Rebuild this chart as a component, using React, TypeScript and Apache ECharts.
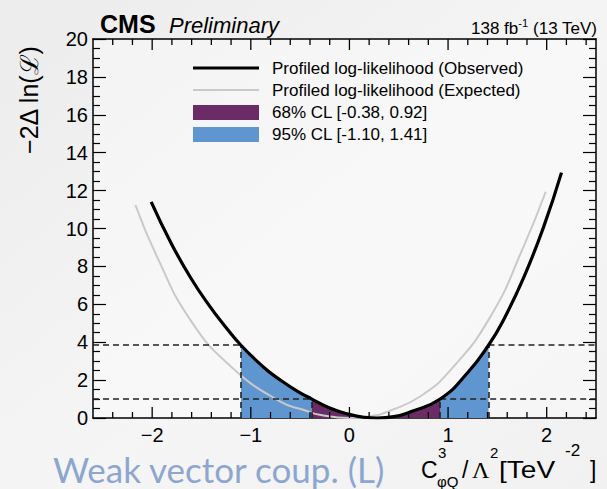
import React, { useEffect, useRef } from "react";
import * as echarts from "echarts";

// Profiled -2ΔlnL scan, observed
const observedX = [-2.01, -1.81, -1.61, -1.41, -1.27, -1.10, -0.87, -0.70, -0.53, -0.38, -0.20, 0.00, 0.15, 0.28, 0.45, 0.62, 0.92, 1.20, 1.41, 1.56, 1.77, 1.97, 2.15];
const observedY = [11.41, 9.25, 7.40, 5.85, 4.90, 3.84, 2.68, 2.00, 1.42, 1.00, 0.53, 0.19, 0.04, 0.00, 0.07, 0.33, 1.00, 2.40, 3.84, 5.15, 7.45, 10.10, 12.95];

// Profiled -2ΔlnL scan, expected
const expectedX = [-2.17, -1.95, -1.61, -1.20, -0.70, -0.46, -0.29, 0.00, 0.20, 0.41, 0.72, 1.02, 1.43, 1.77, 1.99];
const expectedY = [11.24, 8.50, 5.15, 2.71, 0.86, 0.42, 0.16, 0.00, 0.08, 0.38, 1.15, 2.50, 5.35, 9.10, 11.94];

// Confidence intervals and their -2ΔlnL thresholds
const cl68 = [-0.38, 0.92];
const cl95 = [-1.10, 1.41];
const cl68Level = 1;
const cl95Level = 3.84;

// Axis ranges and tick values
const xRange = [-2.6, 2.5];
const yRange = [0, 20];
const xMajorTicks = [-2, -1, 0, 1, 2];
const xMinorTicks = [-2.4, -2.2, -1.8, -1.6, -1.4, -1.2, -0.8, -0.6, -0.4, -0.2, 0.2, 0.4, 0.6, 0.8, 1.2, 1.4, 1.6, 1.8, 2.2, 2.4];
const yMajorStep = 2;

const legendLabels = [
  "Profiled log-likelihood (Observed)",
  "Profiled log-likelihood (Expected)",
  "68% CL [-0.38, 0.92]",
  "95% CL [-1.10, 1.41]",
];

const PURPLE = "#6a2b67";
const BLUE = "#6096cf";
const GRAY = "#c9c9c9";
const FONT = "'Liberation Sans', Arial, Helvetica, sans-serif";
const SMOOTH = 0.5;

const pairs = (xs: number[], ys: number[]) => xs.map((x, i) => [x, ys[i]]);
const band = (lo: number, hi: number) =>
  pairs(observedX, observedY).filter(([x]) => x >= lo - 1e-9 && x <= hi + 1e-9);

const minus = (v: number) => String(v).replace("-", "\u2212");

export default function App() {
  const ref = useRef<HTMLDivElement>(null);

  useEffect(() => {
    if (!ref.current) return;
    const chart = echarts.init(ref.current, null, { renderer: "svg" });

    const frameLine = { show: true, onZero: false, lineStyle: { color: "#000", width: 1.5 } };
    const tickStyle = { color: "#000", width: 1.2 };

    const baseX = {
      type: "value" as const,
      min: xRange[0],
      max: xRange[1],
      splitLine: { show: false },
      axisLine: frameLine,
      axisTick: { show: false },
    };
    const baseY = {
      type: "value" as const,
      min: yRange[0],
      max: yRange[1],
      interval: yMajorStep,
      splitLine: { show: false },
      axisLine: frameLine,
      axisTick: { show: true, inside: true, length: 13, lineStyle: tickStyle },
      minorTick: { show: true, splitNumber: 4, length: 7, lineStyle: tickStyle },
    };

    const dash = { type: [6, 4], color: "#222", width: 1.6 };
    const seg = (x1: number, y1: number, x2: number, y2: number) => [
      { coord: [x1, y1] },
      { coord: [x2, y2] },
    ];

    const txt = (text: string, x: number, y: number, size: number, extra: any = {}) => ({
      type: "text",
      x,
      y,
      scaleX: extra.scaleX || 1,
      style: {
        text,
        font: `${extra.style || "normal"} ${extra.weight || "normal"} ${size}px ${extra.family || FONT}`,
        fill: extra.fill || "#000",
        align: extra.align || "left",
        verticalAlign: "middle",
      },
    });

    chart.setOption({
      animation: false,
      backgroundColor: new echarts.graphic.LinearGradient(0, 0, 1, 1, [
        { offset: 0, color: "#ececec" },
        { offset: 0.55, color: "#f5f5f5" },
        { offset: 1, color: "#f1f1f1" },
      ]),
      grid: { left: 93, top: 39, right: 11, bottom: 71, show: true, backgroundColor: "rgba(255,255,255,0.35)", borderWidth: 0 },
      xAxis: [
        {
          ...baseX,
          position: "bottom",
          axisLabel: {
            customValues: xMajorTicks,
            formatter: (v: number) => minus(v),
            fontSize: 20,
            fontFamily: FONT,
            color: "#000",
            margin: 7,
          },
        },
        { ...baseX, position: "top", axisLabel: { show: false } },
      ],
      yAxis: [
        {
          ...baseY,
          position: "left",
          axisLabel: { fontSize: 20, fontFamily: FONT, color: "#000", margin: 5 },
        },
        { ...baseY, position: "right", axisLabel: { show: false } },
      ],
      series: [
        {
          name: legendLabels[3],
          type: "line",
          data: band(cl95[0], cl95[1]),
          smooth: SMOOTH,
          showSymbol: false,
          lineStyle: { width: 0 },
          areaStyle: { color: BLUE, opacity: 1 },
          z: 1,
          silent: true,
        },
        {
          name: legendLabels[2],
          type: "line",
          data: band(cl68[0], cl68[1]),
          smooth: SMOOTH,
          showSymbol: false,
          lineStyle: { width: 0 },
          areaStyle: { color: PURPLE, opacity: 1 },
          z: 2,
          silent: true,
          markLine: {
            silent: true,
            symbol: ["none", "none"],
            label: { show: false },
            lineStyle: dash,
            data: [
              seg(xRange[0], cl68Level, cl68[0], cl68Level),
              seg(cl68[1], cl68Level, xRange[1], cl68Level),
              seg(xRange[0], cl95Level, cl95[0], cl95Level),
              seg(cl95[1], cl95Level, xRange[1], cl95Level),
              seg(cl95[0], 0, cl95[0], cl95Level),
              seg(cl95[1], 0, cl95[1], cl95Level),
              seg(cl68[0], 0, cl68[0], cl68Level),
              seg(cl68[1], 0, cl68[1], cl68Level),
            ],
          },
        },
        {
          name: legendLabels[1],
          type: "line",
          data: pairs(expectedX, expectedY),
          smooth: SMOOTH,
          showSymbol: false,
          lineStyle: { color: GRAY, width: 2 },
          z: 4,
          silent: true,
        },
        {
          name: legendLabels[0],
          type: "line",
          data: pairs(observedX, observedY),
          smooth: SMOOTH,
          showSymbol: false,
          lineStyle: { color: "#000", width: 3.2 },
          z: 5,
          silent: true,
        },
      ],
    });

    // inward ticks on the bottom and top frame edges, placed through the x/y scales
    const toPx = (v: number, y: number) =>
      chart.convertToPixel({ xAxisIndex: 0, yAxisIndex: 0 }, [v, y]) as number[];
    const tickLines = (values: number[], length: number) =>
      values.flatMap((v) => {
        const b = toPx(v, yRange[0]);
        const t = toPx(v, yRange[1]);
        const style = { stroke: "#000", lineWidth: 1.3 };
        return [
          { type: "line", z: 50, silent: true, shape: { x1: b[0], y1: b[1], x2: b[0], y2: b[1] - length }, style },
          { type: "line", z: 50, silent: true, shape: { x1: t[0], y1: t[1], x2: t[0], y2: t[1] + length }, style },
        ];
      });

    chart.setOption({
      graphic: [
        ...tickLines(xMajorTicks, 11),
        ...tickLines(xMinorTicks, 6),
        // header
        txt("CMS", 100, 24, 25, { weight: "bold" }),
        txt("Preliminary", 169, 25, 22, { style: "italic" }),
        {
          type: "text",
          x: 597,
          y: 27,
          style: {
            text: "{a|138 fb}{s|-1}{a| (13 TeV)}",
            align: "right",
            verticalAlign: "middle",
            rich: {
              a: { fontSize: 17, fontFamily: FONT, fill: "#000", lineHeight: 19, verticalAlign: "bottom" },
              s: { fontSize: 11, fontFamily: FONT, fill: "#000", lineHeight: 19, verticalAlign: "top" },
            },
          },
        },
        // legend
        { type: "line", shape: { x1: 193, y1: 68, x2: 259, y2: 68 }, style: { stroke: "#000", lineWidth: 3.2 } },
        { type: "line", shape: { x1: 193, y1: 90, x2: 259, y2: 90 }, style: { stroke: GRAY, lineWidth: 2 } },
        { type: "rect", shape: { x: 193, y: 105, width: 66, height: 15 }, style: { fill: PURPLE } },
        { type: "rect", shape: { x: 193, y: 127, width: 66, height: 15 }, style: { fill: BLUE } },
        txt(legendLabels[0], 272, 68, 17),
        txt(legendLabels[1], 272, 90, 17),
        txt(legendLabels[2], 272, 112, 17),
        txt(legendLabels[3], 272, 134, 17),
        // y-axis title
        {
          type: "text",
          x: 29,
          y: 100,
          rotation: Math.PI / 2,
          style: {
            text: "\u22122\u0394 ln(\u2112)",
            font: `normal 25px ${FONT}`,
            fill: "#000",
            align: "center",
            verticalAlign: "middle",
          },
        },
        // x-axis title
        txt("C", 421, 470, 23),
        txt("3", 438, 452, 15),
        txt("\u03c6Q", 437, 481, 15),
        txt("/", 462, 470, 23),
        txt("\u039b", 472, 470, 24, { family: "'Liberation Serif', serif" }),
        txt("2", 490, 452, 15),
        txt("[TeV", 499, 470, 23, { scaleX: 1.22 }),
        txt("-2", 565, 450, 17),
        txt("]", 590, 470, 23),
        // caption
        txt("Weak vector coup. (L)", 53, 469, 35, { family: "Lato, 'Open Sans', sans-serif", fill: "#8da6cf" }),
      ],
    });

    return () => chart.dispose();
  }, []);

  return <div ref={ref} style={{ position: "absolute", left: 0, top: 0, width: 607, height: 489 }} />;
}
